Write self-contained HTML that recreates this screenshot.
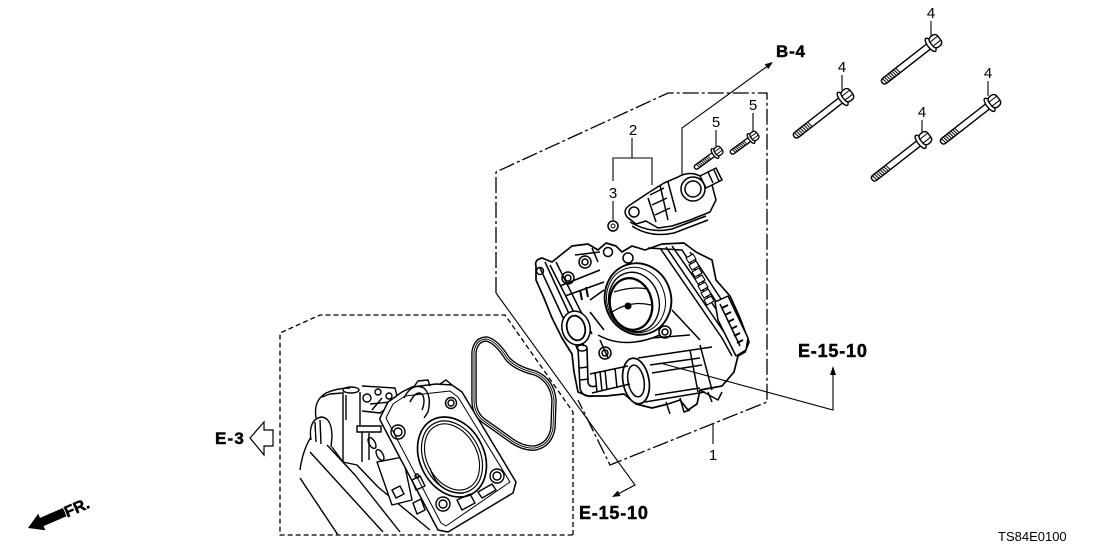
<!DOCTYPE html>
<html><head><meta charset="utf-8"><style>
html,body{margin:0;padding:0;background:#fff;}
svg{display:block;}
text{font-family:"Liberation Sans",Arial,sans-serif;fill:#000;}
.b{font-weight:bold;stroke:#000;stroke-width:0.45;}
</style></head><body>
<svg width="1108" height="553" viewBox="0 0 1108 553" xmlns="http://www.w3.org/2000/svg">
<defs>
<g id="bolt4" stroke="#000" fill="#fff" stroke-width="1.4">
  <path d="M5,-3.2 L61,-3.2 Q64.5,-3.2 64.5,0 Q64.5,3.2 61,3.2 L5,3.2 Z"/>
  <path stroke-width="1" d="M44,-3.2 L45,3.2 M46.4,-3.2 L47.4,3.2 M48.8,-3.2 L49.8,3.2 M51.2,-3.2 L52.2,3.2 M53.6,-3.2 L54.6,3.2 M56,-3.2 L57,3.2 M58.4,-3.2 L59.4,3.2 M60.8,-3.2 L61.8,3.2"/>
  <ellipse cx="3" cy="0" rx="3" ry="8"/>
  <rect x="-8" y="-6.5" width="10" height="13" rx="4"/>
  <path d="M-8,-2.5 L2,-2.5 M-8,2.5 L2,2.5" stroke-width="1"/>
</g>
<g id="bolt5" stroke="#000" fill="#fff" stroke-width="1.3">
  <path d="M4,-2.3 L25,-2.3 Q27.5,-2.3 27.5,0 Q27.5,2.3 25,2.3 L4,2.3 Z"/>
  <path stroke-width="0.9" d="M9,-2.3 L10,2.3 M11,-2.3 L12,2.3 M13,-2.3 L14,2.3 M15,-2.3 L16,2.3 M17,-2.3 L18,2.3 M19,-2.3 L20,2.3 M21,-2.3 L22,2.3 M23,-2.3 L24,2.3"/>
  <ellipse cx="2.5" cy="0" rx="2.2" ry="5.8"/>
  <rect x="-5.5" y="-4.6" width="7.5" height="9.2" rx="3"/>
  <path d="M-5.5,-1.6 L2,-1.6 M-5.5,1.6 L2,1.6" stroke-width="0.9"/>
</g>
</defs>

<!-- Box for part 1 (dash-dot) -->
<path d="M496,293 L496,172 L668,93 L767,93 L767,402 L610,465 L578,400" fill="none" stroke="#000" stroke-width="1.3" stroke-dasharray="16 3 3 3"/>

<!-- Gasket / manifold box (dashed) -->
<path d="M573,535 L573,412 L505,315 L320,315 L280,333 L280,535 Z" fill="none" stroke="#000" stroke-width="1.3" stroke-dasharray="5 3"/>

<!-- Manifold -->
<g stroke="#000" fill="none" stroke-width="1.4" stroke-linejoin="round">
  <path d="M300,470 C302,455 306,445 311,437"/>
  <path d="M311,440 C309,428 312,418 322,417 C329,418 332,426 332,437 L331,447" fill="#fff"/>
  <path d="M315,422 L316,442 M320,420 L321,444"/>
  <path d="M316,418 C314,405 318,398 326,393 C335,389 342,388 350,388"/>
  <path d="M322,397 L330,394 L342,393"/>
  <ellipse cx="351" cy="390" rx="8" ry="3"/>
  <path d="M343,392 L343,462 M360,392 L360,425 M346,395 L346,420"/>
  <path d="M357,426 L381,426 L381,432 L357,432 Z" fill="#fff"/>
  <path d="M362,432 L362,462 M369,433 L369,460"/>
  <circle cx="367" cy="398" r="4"/><circle cx="378" cy="392" r="3"/><circle cx="389" cy="396" r="3"/>
  <path d="M362,386 L395,388 L398,400 L380,413 L362,411 M370,404 L390,402 M372,410 L382,398"/>
  <path d="M310,452 L383,532 M327,445 L355,475 L400,532 M343,462 L357,465 L378,487 L430,530"/>
  <path d="M300,478 L338,535 M332,447 L343,462"/>
  <path d="M377,462 L403,457 L412,500 L392,505 Z" fill="#fff"/>
  <ellipse cx="372" cy="443" rx="3" ry="6" transform="rotate(-30 372 443)"/>
  <ellipse cx="380" cy="455" rx="3" ry="6" transform="rotate(-30 380 455)"/>
  <path d="M392,490 L400,486 L404,494 L396,498 Z M413,503 L421,499 L425,510 L417,514 Z" fill="#fff"/>
  <path d="M380,418 L388,402 L402,392 L412,387 L436,384 L452,385 L462,392 L516,482 L513,493 L448,532 L438,530 L380,420 Z" fill="#fff" stroke-width="1.5"/>
  <path d="M386,418 L393,404 L405,396 L450,391 L458,397 L510,482 L446,526 L441,523 Z" stroke-width="1"/>
  <path d="M413,388 L418,381 L428,380 L430,386 M440,384 L446,380 L452,385"/>
  <path d="M404,398 Q412,382 424,388 Q432,396 428,412 L424,418 M410,402 Q416,390 422,394 Q426,400 422,410"/>
  <ellipse cx="452" cy="457" rx="32" ry="42" transform="rotate(-28 452 457)" stroke-width="1.7"/>
  <ellipse cx="452" cy="457" rx="28" ry="38" transform="rotate(-28 452 457)" stroke-width="1.2"/>
  <ellipse cx="452" cy="457" rx="25" ry="35" transform="rotate(-28 452 457)" stroke-width="1.1"/>
  <path d="M430,468 Q438,494 464,493" stroke-width="1.3"/>
  <circle cx="398" cy="432" r="7"/><circle cx="398" cy="432" r="4"/>
  <circle cx="451" cy="403" r="5.5"/><circle cx="451" cy="403" r="3"/>
  <circle cx="497" cy="476" r="7"/><circle cx="497" cy="476" r="4"/>
  <circle cx="443" cy="504" r="7"/><circle cx="443" cy="504" r="4"/>
  <path d="M457,500 L470,494 L475,503 L462,510 Z M478,492 L492,484 L496,490 L482,498 Z"/>
  <path d="M412,480 L420,476 L425,486 L416,490 Z"/>
  <circle cx="417" cy="476" r="2"/>
</g>

<!-- Gasket -->
<g fill="none" stroke-linejoin="round">
  <path d="M474,352 Q476,339 487,339 Q497,342 507,358 Q515,368 535,373 Q552,380 554,400 L553,428 Q550,445 535,448 Q522,449 508,438 L484,421 Q474,414 474,400 Z" stroke="#000" stroke-width="5.5"/>
  <path d="M474,352 Q476,339 487,339 Q497,342 507,358 Q515,368 535,373 Q552,380 554,400 L553,428 Q550,445 535,448 Q522,449 508,438 L484,421 Q474,414 474,400 Z" stroke="#fff" stroke-width="2.8"/>
  <path d="M474,352 Q476,339 487,339 Q497,342 507,358 Q515,368 535,373 Q552,380 554,400 L553,428 Q550,445 535,448 Q522,449 508,438 L484,421 Q474,414 474,400 Z" stroke="#000" stroke-width="0.9"/>
</g>

<!-- Leader to lower E-15-10 -->
<path d="M496,293 L635,485 L616,495" fill="none" stroke="#000" stroke-width="1.1"/>
<polygon points="612,497 620.5,496 617.7,490.6" fill="#000"/>

<!-- Throttle body (part 1) -->
<g stroke="#000" fill="none" stroke-width="1.5" stroke-linejoin="round">
  <path d="M536,266 Q534,260 542,258 L552,262 L562,254 L572,246 L588,244 L598,250 L606,243 L616,246 L622,252 L632,246 L645,250 L662,244 L684,243 L696,252 L712,260 L716,280 L730,296 L740,318 L749,342 L745,352 L738,356 L734,372 L722,386 L700,390 L697,404 L688,410 L680,400 L668,404 L652,408 L636,404 L624,394 L606,396 L588,396 L578,392 L574,372 L572,354 L562,338 L552,318 L544,298 L536,280 Z" fill="#fff" stroke-width="1.7"/>
  <path d="M540,268 L578,350 M545,262 L584,346 M556,262 L592,334 M550,265 L588,340"/>
  <circle cx="540" cy="271" r="3.5"/>
  <circle cx="585" cy="262" r="6"/><circle cx="585" cy="262" r="3"/>
  <circle cx="608" cy="252" r="4.5"/>
  <circle cx="628" cy="258" r="5"/>
  <circle cx="568" cy="278" r="6"/><circle cx="568" cy="278" r="3"/>
  <path d="M560,286 L600,270 M565,296 L604,282 M590,300 L604,290 M575,255 L600,252 M592,248 L598,262"/>
  <path d="M580,290 L582,300 M586,287 L588,297" stroke-width="2"/>
  <path d="M648,248 L682,250 L745,345 M660,248 L722,338 L732,356 M672,246 L735,336 M690,252 L748,340 M666,247 L728,338"/>
  <g fill="#fff" stroke-width="1.1">
    <path d="M686,258 L693,254 L696,259 L689,263 Z M689,265 L696,261 L699,266 L692,270 Z M692,272 L699,268 L702,273 L695,277 Z M695,279 L702,275 L705,280 L698,284 Z M698,286 L705,282 L708,287 L701,291 Z M701,293 L708,289 L711,294 L704,298 Z M704,300 L711,296 L714,301 L707,305 Z"/>
  </g>
  <path d="M715,302 L728,296 L748,338 L746,350 L736,356 L718,320 Z" fill="#fff"/>
  <path d="M720,304 L740,346"/>
  <path d="M722,308 L728,305 M725,315 L731,312 M728,322 L734,319 M731,329 L737,326 M734,336 L740,333 M737,343 L743,340" stroke-width="2"/>
  <ellipse cx="638" cy="299" rx="33" ry="36" transform="rotate(-18 638 299)" fill="#fff" stroke-width="1.9"/>
  <ellipse cx="636" cy="300" rx="29" ry="33" transform="rotate(-18 636 300)" stroke-width="1"/>
  <ellipse cx="634" cy="302" rx="25" ry="30" transform="rotate(-15 634 302)" stroke-width="1.4"/>
  <ellipse cx="631" cy="304" rx="21" ry="26" transform="rotate(-12 631 304)" stroke-width="2.3"/>
  <path d="M612,312 Q630,300 651,305 M614,292 Q632,286 648,289" stroke-width="1.2"/>
  <circle cx="628" cy="306" r="2.8" fill="#000"/>
  <path d="M598,335 Q625,350 660,335 M600,340 L608,358 M652,338 L690,335 M672,310 L700,340 M590,312 L604,330"/>
  <circle cx="605" cy="353" r="6"/><circle cx="605" cy="353" r="3"/>
  <circle cx="665" cy="332" r="6"/><circle cx="665" cy="332" r="3"/>
  <ellipse cx="576" cy="328" rx="14" ry="17" transform="rotate(-15 576 328)" fill="#fff"/>
  <ellipse cx="576" cy="328" rx="9" ry="12.5" transform="rotate(-15 576 328)" stroke-width="1.8"/>
  <path d="M638,358 L712,347 M645,402 L705,392 M700,345 L712,390 M690,350 L698,392" />
  <ellipse cx="636" cy="381" rx="13" ry="23" transform="rotate(-10 636 381)" fill="#fff" stroke-width="1.7"/>
  <ellipse cx="636" cy="381" rx="8" ry="16" transform="rotate(-10 636 381)"/>
  <path d="M650,365 L700,358 M652,373 L702,365 M655,395 L700,388"/>
  <path d="M590,374 L628,366 M592,393 L630,384" />
  <path d="M595,372 L597,392 M605,370 L607,390 M615,368 L617,388 M600,371 L602,391" />
  <path d="M578,348 L580,388 Q582,398 594,396 M587,348 L588,383 Q590,388 596,386" stroke-width="1.6"/>
  <ellipse cx="582" cy="348" rx="5" ry="3"/>
  <path d="M579,368 L588,367 M580,380 L589,379"/>
  <path d="M680,398 L684,412 L690,410 M666,402 L670,414 M700,390 L718,400 L722,392 M708,392 L712,402"/>
</g>

<!-- Part 2 sensor -->
<g stroke="#000" fill="#fff" stroke-width="1.5" stroke-linejoin="round">
  <path d="M627,217 Q622,210 630,205 L648,193 L664,183 L678,177 Q690,170 702,177 L712,185 L716,200 L710,212 L690,220 L672,226 L658,228 L646,221 L636,224 Z"/>
  <circle cx="634" cy="212" r="5"/>
  <circle cx="693" cy="189" r="12"/><circle cx="693" cy="189" r="8"/>
  <path d="M700,176 L716,168 L722,180 L706,188 Z"/>
  <path d="M708,172 L713,183 M714,170 L719,181" fill="none"/>
  <path d="M650,195 L664,188 M652,205 L667,198 M655,215 L670,208 M660,185 L668,220 M648,198 L656,222 M668,182 L676,212" fill="none"/>
  <path d="M630,222 Q650,234 672,229 L706,216 M632,226 Q650,238 674,233 L708,220" fill="none"/>
</g>
<circle cx="613" cy="226" r="5" fill="#fff" stroke="#000" stroke-width="1.5"/>
<circle cx="613" cy="226" r="2" fill="none" stroke="#000" stroke-width="1"/>

<!-- Bolts -->
<use href="#bolt5" transform="translate(717,152) rotate(144)"/>
<use href="#bolt5" transform="translate(753,137) rotate(144)"/>
<use href="#bolt4" transform="translate(933,43) rotate(142)"/>
<use href="#bolt4" transform="translate(845,97) rotate(142)"/>
<use href="#bolt4" transform="translate(923,140) rotate(142)"/>
<use href="#bolt4" transform="translate(992,103) rotate(142)"/>

<!-- Leader lines -->
<g stroke="#000" stroke-width="1.1" fill="none">
  <path d="M632,138 L632,158 M613,181 L613,158 L652,158 L652,185"/>
  <path d="M613,201 L613,220"/>
  <path d="M716,130 L716,146"/>
  <path d="M753,113 L753,131"/>
  <path d="M931,21 L931,36 M842,75 L842,90 M922,120 L922,133 M988,81 L988,96"/>
  <path d="M713,424 L713,444"/>
  <path d="M682,175 L682,128 L769,65"/>
  <path d="M660,363 L833,410 L833,374"/>
</g>
<polygon points="773,62 768.3,69.1 764.7,64.3" fill="#000"/>
<polygon points="833,366 830,375 836,375" fill="#000"/>

<!-- E-3 hollow arrow -->
<polygon points="250,438 264,422 264,430 273,430 273,446 264,446 264,455" fill="#fff" stroke="#000" stroke-width="1.2"/>

<!-- FR arrow -->
<g transform="translate(28,528) rotate(-23.4)">
  <polygon points="0,0 15,-9 15,-4.5 40,-4.5 40,4.5 15,4.5 15,9" fill="#000"/>
  <text x="40" y="6" class="b" font-size="16">FR.</text>
</g>

<!-- Labels -->
<g font-size="15" text-anchor="middle">
  <text x="633" y="135">2</text>
  <text x="613" y="198">3</text>
  <text x="716" y="127">5</text>
  <text x="753" y="110">5</text>
  <text x="931" y="18">4</text>
  <text x="842" y="72">4</text>
  <text x="922" y="117">4</text>
  <text x="988" y="78">4</text>
  <text x="713" y="460">1</text>
</g>
<text x="776" y="57" class="b" font-size="17" letter-spacing="0.8">B-4</text>
<text x="798" y="357" class="b" font-size="18" letter-spacing="0.8">E-15-10</text>
<text x="579" y="519" class="b" font-size="18" letter-spacing="0.8">E-15-10</text>
<text x="215" y="444" class="b" font-size="17" letter-spacing="1.2">E-3</text>
<text x="998" y="541" font-size="13">TS84E0100</text>
</svg>
</body></html>
